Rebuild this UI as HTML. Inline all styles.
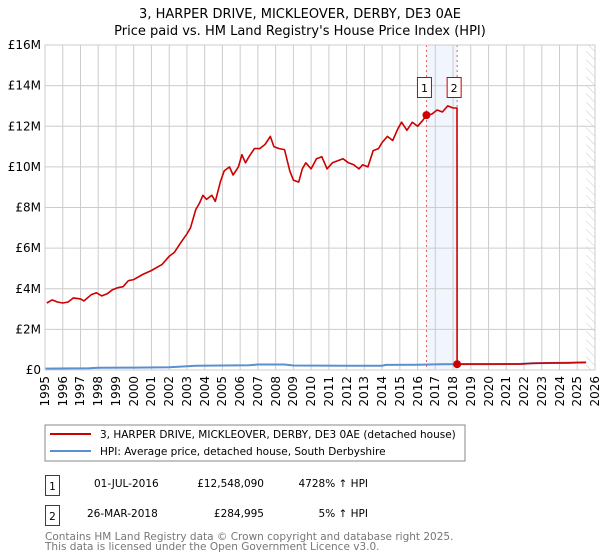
<!DOCTYPE html>
<html><head><meta charset="utf-8">
<style>
body{margin:0;background:#fff;font-family:"DejaVu Sans","Liberation Sans",sans-serif;}
#wrap{position:relative;width:600px;height:560px;overflow:hidden;}
svg text{font-family:"DejaVu Sans","Liberation Sans",sans-serif;}
.xt{position:absolute;font-size:12px;line-height:12px;width:40px;height:12px;text-align:right;transform-origin:0 0;transform:rotate(-90deg);white-space:nowrap;}
</style></head>
<body>
<div id="wrap">
<svg id="chart" width="600" height="560" style="position:absolute;left:0;top:0">
<defs>
<pattern id="hatch" width="6" height="6" patternUnits="userSpaceOnUse" patternTransform="rotate(-45)">
<line x1="0" y1="0" x2="0" y2="6" stroke="#ccc" stroke-width="1"/>
</pattern>
</defs>
<text x="300" y="18" text-anchor="middle" font-size="13" fill="#000">3, HARPER DRIVE, MICKLEOVER, DERBY, DE3 0AE</text>
<text x="300" y="35" text-anchor="middle" font-size="13" fill="#000">Price paid vs. HM Land Registry's House Price Index (HPI)</text>
<g id="grid"></g>
<g id="marks"></g>
<g id="axes"></g>

<rect x="45" y="425" width="420" height="36" fill="#fff" stroke="#888"/>
<line x1="50" y1="434" x2="91" y2="434" stroke="#cc0000" stroke-width="2"/>
<text x="100" y="438" font-size="10.5">3, HARPER DRIVE, MICKLEOVER, DERBY, DE3 0AE (detached house)</text>
<line x1="50" y1="451" x2="91" y2="451" stroke="#5b8fd0" stroke-width="2"/>
<text x="100" y="455" font-size="10.5">HPI: Average price, detached house, South Derbyshire</text>

<rect x="45.5" y="475.5" width="14" height="20" fill="#fff" stroke="#cc0000"/>
<text x="52.5" y="490" font-size="10.5" text-anchor="middle">1</text>
<text x="94" y="487" font-size="10.5">01-JUL-2016</text>
<text x="264" y="487" font-size="10.5" text-anchor="end">£12,548,090</text>
<text x="368" y="487" font-size="10.5" text-anchor="end">4728% ↑ HPI</text>
<rect x="45.5" y="505.5" width="14" height="20" fill="#fff" stroke="#cc0000"/>
<text x="52.5" y="520" font-size="10.5" text-anchor="middle">2</text>
<text x="87" y="517" font-size="10.5">26-MAR-2018</text>
<text x="264" y="517" font-size="10.5" text-anchor="end">£284,995</text>
<text x="368" y="517" font-size="10.5" text-anchor="end">5% ↑ HPI</text>
<text x="45" y="540" font-size="10.5" fill="#777">Contains HM Land Registry data © Crown copyright and database right 2025.</text>
<text x="45" y="550" font-size="10.5" fill="#777">This data is licensed under the Open Government Licence v3.0.</text>
</svg>
<div id="xlabels"></div>
</div>
<script>
const yearTicks=[1995,1996,1997,1998,1999,2000,2001,2002,2003,2004,2005,2006,2007,2008,2009,2010,2011,2012,2013,2014,2015,2016,2017,2018,2019,2020,2021,2022,2023,2024,2025,2026];
const valueTicks=[0,2,4,6,8,10,12,14,16];
const valueTickLabels=["£0","£2M","£4M","£6M","£8M","£10M","£12M","£14M","£16M"];
const propYears=[
1995.1,1995.4,1995.7,1996.0,1996.3,1996.6,1997.0,1997.2,1997.6,1997.9,
1998.2,1998.5,1998.8,1999.1,1999.4,1999.7,2000.0,2000.5,2001.0,2001.3,
2001.6,2002.0,2002.3,2002.6,2003.0,2003.2,2003.5,2003.7,2003.9,2004.1,
2004.4,2004.6,2004.9,2005.1,2005.4,2005.6,2005.9,2006.1,2006.3,2006.5,
2006.8,2007.1,2007.4,2007.7,2007.9,2008.2,2008.5,2008.8,2009.0,2009.3,
2009.5,2009.7,2010.0,2010.3,2010.6,2010.9,2011.2,2011.5,2011.8,2012.1,
2012.4,2012.7,2012.9,2013.2,2013.5,2013.8,2014.0,2014.3,2014.6,2014.9,
2015.1,2015.4,2015.7,2016.0,2016.3,2016.5,2016.8,2017.1,2017.4,2017.7,
2018.0,2018.22,2018.23,2019.0,2020.0,2021.0,2021.8,2022.5,2023.5,2024.5,
2025.0,2025.5];
const propValues=[
3.3,3.45,3.35,3.3,3.35,3.55,3.5,3.4,3.7,3.8,
3.65,3.75,3.95,4.05,4.1,4.4,4.45,4.7,4.9,5.05,
5.2,5.6,5.8,6.2,6.7,7.0,7.9,8.2,8.6,8.4,
8.6,8.3,9.3,9.8,10.0,9.6,10.0,10.6,10.2,10.5,
10.9,10.9,11.1,11.5,11.0,10.9,10.85,9.8,9.35,9.25,
9.9,10.2,9.9,10.4,10.5,9.9,10.2,10.3,10.4,10.2,
10.1,9.9,10.1,10.0,10.8,10.9,11.2,11.5,11.3,11.9,
12.2,11.8,12.2,12.0,12.3,12.55,12.6,12.8,12.7,13.0,
12.9,12.9,0.285,0.29,0.29,0.29,0.29,0.33,0.35,0.35,
0.37,0.38];
const hpiYears=[1995.0,1996.5,1997.5,1998.0,2000.0,2002.0,2002.5,2003.5,2005.0,2006.5,2007.0,2008.5,2009.0,2012.0,2014.0,2014.2,2016.0,2017.3,2018.2,2020.0,2021.8,2022.5,2024.0,2025.5];
const hpiValues=[0.07,0.08,0.09,0.11,0.12,0.14,0.16,0.21,0.22,0.23,0.27,0.27,0.22,0.21,0.21,0.25,0.26,0.28,0.29,0.29,0.3,0.33,0.35,0.37];
const saleLabels=["1","2"];
const saleYears=[2016.5,2018.23];
const saleValues=[12.548,0.285];

const L=45,R=595,T=45,B=370,X0=1995,X1=2026,YMAX=16;
const xs=y=>L+(y-X0)/(X1-X0)*(R-L);
const ys=v=>B-v/YMAX*(B-T);
const NS="http://www.w3.org/2000/svg";
function mk(tag,attrs,parent){const e=document.createElementNS(NS,tag);for(const k in attrs)e.setAttribute(k,attrs[k]);parent.appendChild(e);return e;}
const grid=document.getElementById('grid'),marks=document.getElementById('marks'),axes=document.getElementById('axes');
const xl=document.getElementById('xlabels');

let band=mk('rect',{x:xs(saleYears[0]),y:T,width:xs(saleYears[1])-xs(saleYears[0]),height:B-T,fill:'#eef3fc',opacity:0.8},grid);


let hz=mk('rect',{x:xs(2025.5),y:T,width:R-xs(2025.5),height:B-T,fill:'url(#hatch)'},grid);



yearTicks.forEach((yr,i)=>{
  let g=mk('line',{x1:xs(yr),x2:xs(yr),y1:T,y2:B,stroke:'#ccc','stroke-width':1},grid);
  
  
  const d=document.createElement('div');
  d.className='xt';
  d.textContent=yr;
  // after rotate(-90) about top-left: element occupies x..x+12, y-40..y
  d.style.left=(xs(yr)-6)+'px';
  d.style.top=(B+6+40)+'px';
  
  
  xl.appendChild(d);
});
valueTicks.forEach((v,i)=>{
  let g=mk('line',{x1:L,x2:R,y1:ys(v),y2:ys(v),stroke:'#ccc','stroke-width':1},grid);
  
  
  let t=mk('text',{x:L-4,y:ys(v)+4,'font-size':12,'text-anchor':'end'},axes);
  t.textContent=valueTickLabels[i];
  
  
});
let fr=mk('rect',{x:L,y:T,width:R-L,height:B-T,fill:'none',stroke:'#ccc'},axes);



saleYears.forEach((yr,i)=>{
  let l=mk('line',{x1:xs(yr),x2:xs(yr),y1:T,y2:B,stroke:'#e06060','stroke-width':1,'stroke-dasharray':'2,3'},marks);
  
  
});

function path(xa,va){return xa.map((x,i)=>(i?'L':'M')+xs(x).toFixed(1)+','+ys(va[i]).toFixed(1)).join(' ');}
let hp=mk('path',{d:path(hpiYears,hpiValues),fill:'none',stroke:'#5b8fd0','stroke-width':2},marks);


let pp=mk('path',{d:path(propYears,propValues),fill:'none',stroke:'#cc0000','stroke-width':1.6,'stroke-linejoin':'round'},marks);



saleYears.forEach((yr,i)=>{
  const lab=saleLabels[i];
  let c=mk('circle',{cx:xs(yr),cy:ys(saleValues[i]),r:4,fill:'#cc0000'},marks);
  
  
  let bx=xs(yr)-(i===0?2:3);
  let r=mk('rect',{x:bx-7,y:77.5,width:14,height:20,fill:'#fff',stroke:'#cc0000'},marks);
  
  
  let t=mk('text',{x:bx,y:92,'font-size':11,'text-anchor':'middle'},marks);
  t.textContent=lab;
  
  
});
</script>
</body></html>
